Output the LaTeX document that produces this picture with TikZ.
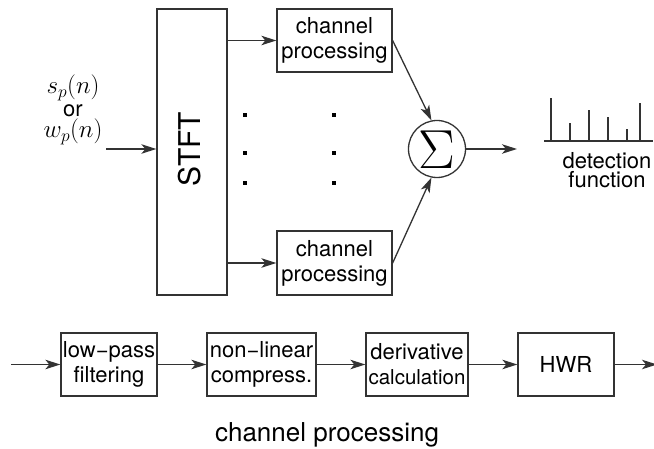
\RequirePackage{fix-cm}
\documentclass[tikz,border=0pt]{standalone}
\usepackage[no-math]{fontspec}
\setmainfont{TeX Gyre Heros}
\usepackage{graphicx}
\usetikzlibrary{arrows.meta}
\tikzset{
  ln/.style={draw=black!80, line width=1.3pt},
  blk/.style={ln, rectangle, inner sep=0pt, align=center, font=\fontsize{22}{25}\selectfont},
  arr/.style={ln, -{Stealth[length=15pt,width=9.5pt,inset=4pt]}},
  dotm/.style={fill=black, rectangle, minimum size=4pt, inner sep=0pt},
  txt/.style={inner sep=0pt, align=center, font=\fontsize{22}{19}\selectfont},
  mth/.style={inner sep=0pt, font=\fontsize{25}{25}\selectfont},
}
\begin{document}
\begin{tikzpicture}[x=1pt,y=-1pt]
\useasboundingbox (0,0) rectangle (654,449);
% top part
\node[blk, minimum width=70pt, minimum height=286pt] (stft) at (192,152) {};
\node[inner sep=0pt] (stftt) at (190,149) {\rotatebox{90}{\fontsize{30}{30}\selectfont STFT}};
\node[blk, minimum width=115pt, minimum height=63pt] (ch1) at (334.5,40.5) {channel\\processing};
\node[blk, minimum width=115pt, minimum height=64pt] (ch2) at (334.5,263) {channel\\processing};
\node[ln, circle, minimum size=57pt, inner sep=0pt] (sum) at (437,149) {};
\node[inner sep=0pt] (sig) at (437,150) {\fontsize{55}{55}\selectfont$\Sigma$};
\node[mth] (sp) at (73,88) {$s_p(n)$};
\node[txt, font=\fontsize{22}{22}\selectfont] (or) at (73,111) {or};
\node[mth] (wp) at (73,132) {$w_p(n)$};
\coordinate (inp) at (106,149);
\draw[arr] (inp) -- (inp -| stft.west);
\draw[arr] (stft.east |- ch1.west) -- (ch1.west);
\draw[arr] (stft.east |- ch2.west) -- (ch2.west);
\draw[arr] (ch1.east) -- (sum.101);
\draw[arr] (ch2.east) -- (sum.259);
\coordinate (outp) at (517,149);
\draw[arr] (sum.east) -- (outp);
% dots
\foreach \x/\n in {245/a,334/b}{
  \foreach \y/\m in {115/1,153/2,183/3}{
    \node[dotm] (d\n\m) at (\x,\y) {};
  }
}
% detection function
\draw[ln] (544,141) -- (653,141);
\foreach \x/\t in {551/98,570/123,589/110,608/117,627/129,640/103}{
  \draw[ln] (\x,141) -- (\x,\t);
}
\node[txt] (det) at (607,170) {detection\\function};
% bottom chain
\node[blk, minimum width=96pt, minimum height=63pt] (lp) at (109,364.5) {low\hbox{−}pass\\filtering};
\node[blk, minimum width=109pt, minimum height=63pt] (nl) at (261.5,364.5) {non\hbox{−}linear\\compress.};
\node[blk, minimum width=102pt, minimum height=63pt] (der) at (417,364.5) {derivative\\{\fontsize{20.5}{22}\selectfont calculation}};
\node[blk, minimum width=96pt, minimum height=63pt] (hwr) at (566,364.5) {HWR};
\coordinate (bin) at (11,364.5);
\coordinate (bout) at (657,364.5);
\draw[arr] (bin) -- (lp.west);
\draw[arr] (lp.east) -- (nl.west);
\draw[arr] (nl.east) -- (der.west);
\draw[arr] (der.east) -- (hwr.west);
\draw[arr] (hwr.east) -- (bout);
\node[inner sep=0pt, font=\fontsize{26}{26}\selectfont] (cap) at (327,435) {channel processing};
\end{tikzpicture}
\end{document}
